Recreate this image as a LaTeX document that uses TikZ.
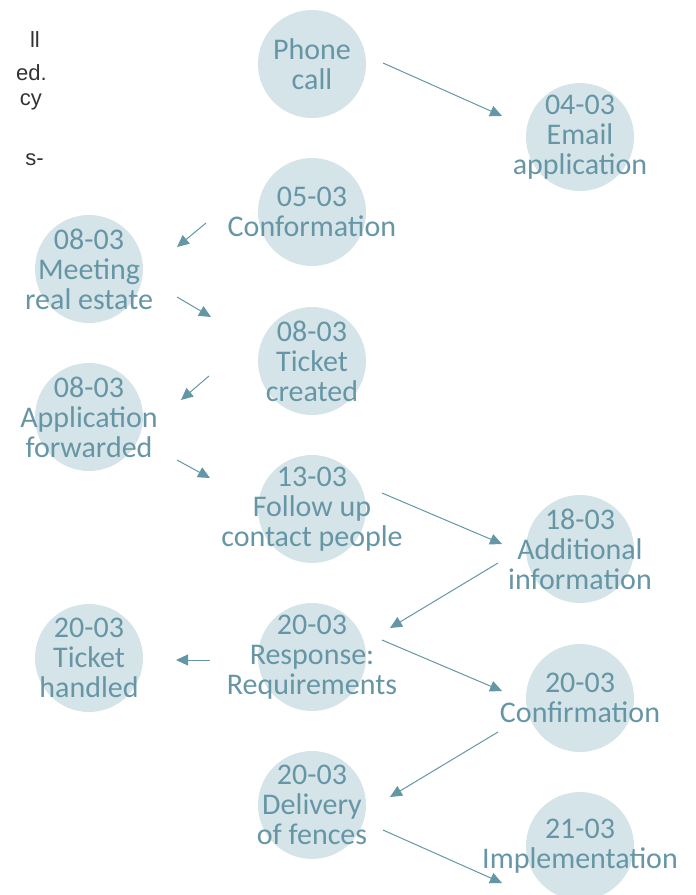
\documentclass[tikz,border=0pt]{standalone}
\usepackage{fontspec}
\setmainfont{Carlito}
\newfontfamily\fragfont{Liberation Sans}
\usetikzlibrary{arrows.meta}
\definecolor{circfill}{HTML}{D5E4E8}
\definecolor{txtcol}{HTML}{6696A5}
\definecolor{arrcol}{HTML}{6497A5}
\definecolor{fragcol}{HTML}{333333}
\begin{document}
\begin{tikzpicture}[x=1pt,y=-1pt,
  bubble/.style={circle,fill=circfill,minimum size=108pt,inner sep=0pt},
  lbl/.style={align=center,text=txtcol,font=\fontsize{30}{30}\selectfont,inner sep=0pt},
  frag/.style={anchor=east,text=fragcol,font=\fragfont\fontsize{22}{24}\selectfont,inner sep=0pt},
  arr/.style={draw=arrcol,line width=1pt,-{Triangle[length=12pt,width=11pt,fill=arrcol]}}]
\useasboundingbox (0,0) rectangle (696,895);
\node[frag] (f1) at (40,40) {ll};
\node[frag] (f2) at (47,73) {ed.};
\node[frag] (f3) at (42,102) {cy};
\node[frag] (f4) at (44,160) {s-};

\node[bubble] (ph) at (312,64) {};
\node[bubble] (em) at (580,137) {};
\node[bubble] (co) at (312,212) {};
\node[bubble] (me) at (89,269) {};
\node[bubble] (tc) at (312,361) {};
\node[bubble] (af) at (89,417) {};
\node[bubble] (fu) at (312,509) {};
\node[bubble] (ad) at (580,549) {};
\node[bubble] (re) at (312,657) {};
\node[bubble] (th) at (89,658) {};
\node[bubble] (cf) at (580,698) {};
\node[bubble] (de) at (312,805) {};
\node[bubble] (im) at (580,846) {};

\node[lbl] (tph) at (ph) {Phone\\call};
\node[lbl] (tem) at (em) {04-03\\Email\\application};
\node[lbl] (tco) at (co) {05-03\\Conformation};
\node[lbl] (tme) at (me) {08-03\\Meeting\\real estate};
\node[lbl] (ttc) at (tc) {08-03\\Ticket\\created};
\node[lbl] (taf) at (af) {08-03\\Application\\forwarded};
\node[lbl] (tfu) at (fu) {13-03\\Follow up\\contact people};
\node[lbl] (tad) at (ad) {18-03\\Additional\\information};
\node[lbl] (tre) at (re) {20-03\\Response:\\Requirements};
\node[lbl] (tth) at (th) {20-03\\Ticket\\handled};
\node[lbl] (tcf) at (cf) {20-03\\Confirmation};
\node[lbl] (tde) at (de) {20-03\\Delivery\\of fences};
\node[lbl] (tim) at (im) {21-03\\Implementation};

\draw[arr] ([shift={(71,-1)}]ph.center) -- ([shift={(-78,-21)}]em.center);
\draw[arr] ([shift={(-106,11)}]co.center) -- ([shift={(88,-22)}]me.center);
\draw[arr] ([shift={(88,28)}]me.center) -- ([shift={(-101,-44)}]tc.center);
\draw[arr] ([shift={(-103,15)}]tc.center) -- ([shift={(92,-17)}]af.center);
\draw[arr] ([shift={(88,43)}]af.center) -- ([shift={(-102,-31)}]fu.center);
\draw[arr] ([shift={(70,-16)}]fu.center) -- ([shift={(-78,-5)}]ad.center);
\draw[arr] ([shift={(-82,14)}]ad.center) -- ([shift={(78,-29)}]re.center);
\draw[arr] ([shift={(-102,3)}]re.center) -- ([shift={(87,2)}]th.center);
\draw[arr] ([shift={(70,-17)}]re.center) -- ([shift={(-78,-7)}]cf.center);
\draw[arr] ([shift={(-82,34)}]cf.center) -- ([shift={(78,-8)}]de.center);
\draw[arr] ([shift={(71,25)}]de.center) -- ([shift={(-78,37)}]im.center);
\end{tikzpicture}
\end{document}
